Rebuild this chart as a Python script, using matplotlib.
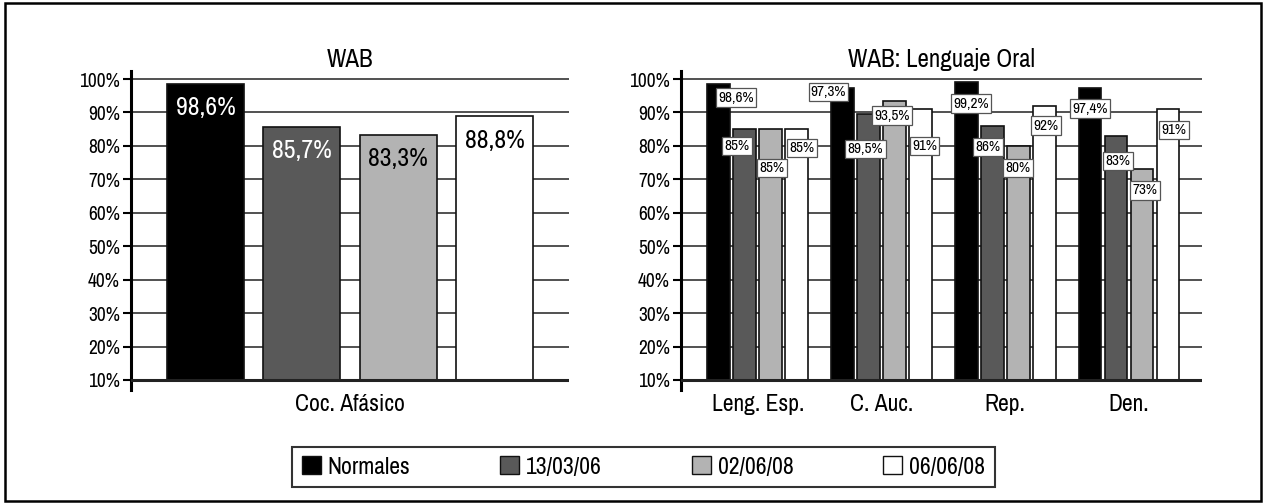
import matplotlib
matplotlib.use("Agg")
import matplotlib.pyplot as plt
from matplotlib.patches import Rectangle, Patch
import numpy as np

plt.rcParams["font.family"] = ["Archivo Narrow", "DejaVu Sans"]

series = ["Normales", "13/03/06", "02/06/08", "06/06/08"]
colors = ["#000000", "#595959", "#b3b3b3", "#ffffff"]

# left chart: Coc. Afasico
left_cat = ["Coc. Afásico"]
left_vals = [98.6, 85.7, 83.3, 88.8]
left_labels = ["98,6%", "85,7%", "83,3%", "88,8%"]

# right chart: Lenguaje Oral
right_cats = ["Leng. Esp.", "C. Auc.", "Rep.", "Den."]
right_vals = [
    [98.6, 97.3, 99.2, 97.4],  # Normales
    [85.0, 89.5, 86.0, 83.0],  # 13/03/06
    [85.0, 93.5, 80.0, 73.0],  # 02/06/08
    [85.0, 91.0, 92.0, 91.0],  # 06/06/08
]
right_labels = [
    ["98,6%", "97,3%", "99,2%", "97,4%"],
    ["85%", "89,5%", "86%", "83%"],
    ["85%", "93,5%", "80%", "73%"],
    ["85%", "91%", "92%", "91%"],
]
# label offsets (px) relative to bar top centre, as placed in the original
label_dx = [[17, -14, 5, 0], [-8, -3, -4, 2], [1, -2, 0, 3], [5, 4, 2, 6]]
label_dy = [[-14, -4, -22, -21], [-17, -35, -21, -25], [-39, -15, -22, -21], [-19, -37, -20, -21]]

yticks = list(range(10, 101, 10))
ytick_labels = [f"{t}%" for t in yticks]

fig = plt.figure(figsize=(12.66, 5.04), dpi=100)
fig.patches.append(Rectangle((0.004, 0.006), 0.992, 0.988, transform=fig.transFigure,
                             fill=False, ec="black", lw=1.8))

ax1 = fig.add_axes([131 / 1266, 1 - 390 / 504, (569 - 131) / 1266, (390 - 71) / 504])
ax2 = fig.add_axes([681 / 1266, 1 - 390 / 504, (1202 - 681) / 1266, (390 - 71) / 504])


def style_axes(ax, title):
    ax.set_ylim(7.0, 102.4)
    ax.set_yticks(yticks)
    ax.set_yticklabels(ytick_labels)
    for t in yticks[1:]:
        ax.axhline(t, color="#333333", lw=1.2, zorder=0)
    ax.axhline(10, color="#222222", lw=2.2, zorder=3)
    for s in ["top", "right", "bottom"]:
        ax.spines[s].set_visible(False)
    ax.spines["left"].set_linewidth(2.2)
    ax.tick_params(axis="y", direction="out", length=6, width=1.5, labelsize=14, pad=2)
    ax.tick_params(axis="x", length=0, labelsize=17, pad=3)
    ax.set_title(title, fontsize=18, pad=2)


# left chart
step1 = 0.22
w1 = 0.175
x0 = np.arange(len(left_cat))
for i, (v, c) in enumerate(zip(left_vals, colors)):
    xc = x0[0] + (i - 1.5) * step1
    ax1.bar(xc, v - 10, bottom=10, width=w1, color=c, edgecolor="#111111", lw=1.2, zorder=2)
    ax1.annotate(left_labels[i], (xc, v), xytext=(0, -17), textcoords="offset points",
                 ha="center", va="center", fontsize=18.5,
                 color="white" if i < 2 else "black", zorder=5)
ax1.set_xlim(-0.5, 0.5)
ax1.set_xticks(x0)
ax1.set_xticklabels(left_cat)
style_axes(ax1, "WAB")

# right chart
step2 = 0.21
w2 = 0.185
xr = np.arange(len(right_cats))
for i in range(len(series)):
    xs = xr + (i - 1.5) * step2
    vals = np.array(right_vals[i])
    ax2.bar(xs, vals - 10, bottom=10, width=w2, color=colors[i], edgecolor="#111111",
            lw=1.2, zorder=2)
    for j in range(len(right_cats)):
        ax2.annotate(right_labels[i][j], (xs[j], vals[j]),
                     xytext=(label_dx[i][j] * 0.72, label_dy[i][j] * 0.72),
                     textcoords="offset points", ha="center", va="center", fontsize=11,
                     bbox=dict(boxstyle="square,pad=0.15", fc="white", ec="#555555", lw=0.9),
                     zorder=6)
ax2.set_xlim(-0.62, 3.59)
ax2.set_xticks(xr)
ax2.set_xticklabels(right_cats)
style_axes(ax2, "WAB: Lenguaje Oral")

handles = [Patch(facecolor=c, edgecolor="#111111", lw=1.0) for c in colors]
leg = fig.legend(handles, series, loc="center", bbox_to_anchor=(643.5 / 1266, 1 - 467 / 504),
                 ncol=4, fontsize=17, frameon=True, fancybox=False, edgecolor="black",
                 handlelength=0.8, handleheight=0.8, handletextpad=0.3, columnspacing=3.8,
                 borderpad=0.4)
leg.get_frame().set_linewidth(1.5)

fig.savefig("out.png", dpi=100)
